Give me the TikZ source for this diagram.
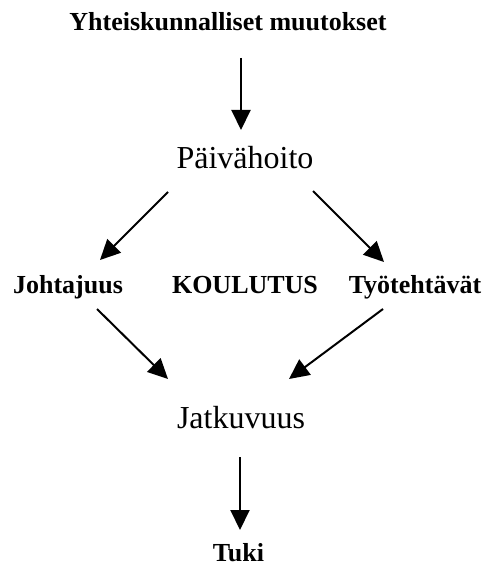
\documentclass[tikz,border=0pt]{standalone}
\usepackage{fontspec}
\setmainfont{Liberation Serif}
\usetikzlibrary{arrows.meta,calc}
\begin{document}
\begin{tikzpicture}[x=1pt,y=-1pt,
  boldlbl/.style={font=\bfseries\fontsize{26}{30}\selectfont, inner sep=0pt, anchor=base},
  biglbl/.style={font=\fontsize{32}{38}\selectfont, inner sep=0pt, anchor=base},
  arr/.style={line width=2pt, -{Triangle[length=20pt,width=19pt]}}]
\useasboundingbox (0,0) rectangle (487,567);
\node[boldlbl] (title) at (228,31) {Yhteiskunnalliset muutokset};
\node[biglbl] (paiva) at (245,168) {Päivähoito};
\node[boldlbl] (joht) at (68,293) {Johtajuus};
\node[boldlbl] (koul) at (245,293) {KOULUTUS};
\node[boldlbl] (tyo) at (415,293) {Työtehtävät};
\node[biglbl] (jatk) at (241,428) {Jatkuvuus};
\node[boldlbl] (tuki) at (238.5,561) {Tuki};
\draw[arr] ($(title.base)+(13,27)$) -- ($(paiva.base)+(-4,-38)$);
\draw[arr] ($(paiva.base)+(-77,24)$) -- ($(joht.base)+(32,-33)$);
\draw[arr] ($(paiva.base)+(68,23)$) -- ($(tyo.base)+(-31,-31)$);
\draw[arr] ($(joht.base)+(29,16)$) -- ($(jatk.base)+(-73,-49)$);
\draw[arr] ($(tyo.base)+(-32,16)$) -- ($(jatk.base)+(48,-49)$);
\draw[arr] ($(jatk.base)+(-1,29)$) -- ($(tuki.base)+(1.5,-31)$);
\end{tikzpicture}
\end{document}
